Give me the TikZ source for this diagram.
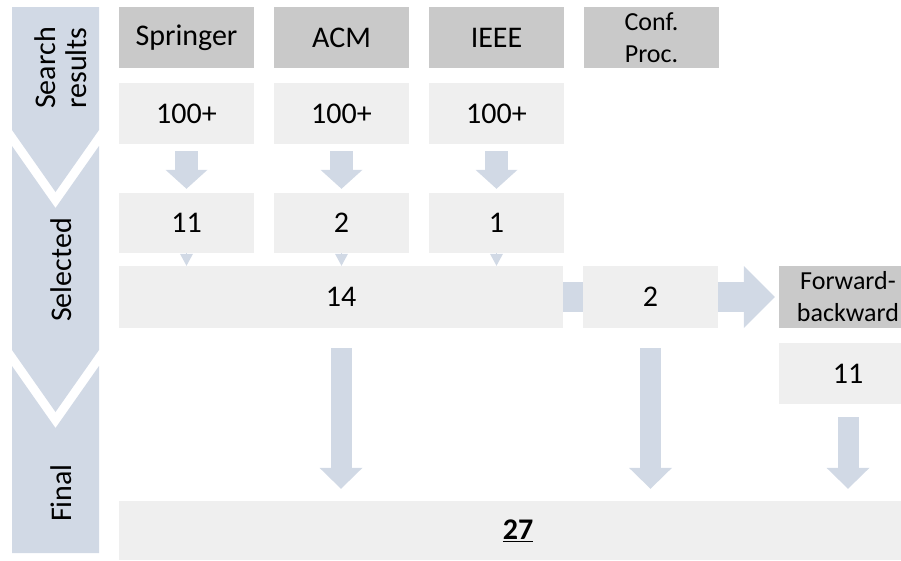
\documentclass[tikz,border=0pt]{standalone}
\usepackage{fontspec}
\setmainfont{Carlito}
\usetikzlibrary{arrows.meta}
\usetikzlibrary{backgrounds}
\definecolor{headgray}{RGB}{201,201,201}
\definecolor{cellgray}{RGB}{239,239,239}
\definecolor{flowblue}{RGB}{209,217,229}
\tikzset{head/.style = {fill=headgray, inner sep=0pt, minimum width=135pt,
                        minimum height=61pt, font=\fontsize{30}{34}\selectfont},
         smallhead/.style = {head, align=center, font=\fontsize{26}{32}\selectfont},
         cell/.style = {fill=cellgray, inner sep=0pt, minimum width=135pt,
                        minimum height=61pt, font=\fontsize{30}{34}\selectfont},
         band/.style = {rotate=90, align=center, font=\fontsize{30}{31}\selectfont},
         flow/.style = {draw=flowblue, line width=23pt,
                        -{Triangle[length=19pt, width=42pt, line width=0pt]}},
         longflow/.style = {draw=flowblue, line width=21pt,
                        -{Triangle[length=21pt, width=43pt, line width=0pt]}},
         sideflow/.style = {draw=flowblue, line width=30pt,
                        -{Triangle[length=31pt, width=62pt, line width=0pt]}},
         tinyflow/.style = {draw=flowblue, line width=0.5pt,
                        -{Triangle[length=12pt, width=13pt, line width=0pt]}}}

\begin{document}
\begin{tikzpicture}[x=1pt, y=-1pt]
    \useasboundingbox (0, 0) rectangle (901, 560);

    % stage band on the left
    \fill [flowblue] (12, 7) -- (99, 7) -- (99, 130) -- (55.5, 192) -- (12, 130) -- cycle;
    \fill [flowblue] (12, 146) -- (55.5, 208) -- (99, 146) -- (99, 350)
                     -- (55.5, 412) -- (12, 350) -- cycle;
    \fill [flowblue] (12, 366) -- (55.5, 428) -- (99, 366) -- (99, 553) -- (12, 553) -- cycle;
    \node (search) [band] at (61, 68) {Search\\results};
    \node (selected) [band] at (61, 270) {Selected};
    \node (final) [band] at (61, 493) {Final};

    % sources
    \node (springer) [head] at (186.5, 37.5) {Springer};
    \node (acm) [head] at (341.5, 37.5) {ACM};
    \node (ieee) [head] at (496.5, 37.5) {IEEE};
    \node (conf) [smallhead] at (651.5, 37.5) {Conf.\\Proc.};

    \node (sp-hits) [cell] at (186.5, 113.5) {100+};
    \node (acm-hits) [cell] at (341.5, 113.5) {100+};
    \node (ieee-hits) [cell] at (496.5, 113.5) {100+};

    \node (sp-sel) [cell, minimum height=60pt] at (186.5, 223) {11};
    \node (acm-sel) [cell, minimum height=60pt] at (341.5, 223) {2};
    \node (ieee-sel) [cell, minimum height=60pt] at (496.5, 223) {1};

    % selected and final
    \node (db-sel) [cell, minimum width=444pt, minimum height=62pt] at (341, 297) {14};
    \node (conf-sel) [cell, minimum height=62pt] at (650.5, 297) {2};
    \node (fb) [smallhead, minimum width=138pt, minimum height=62pt] at (848, 297) {Forward-\\backward};
    \node (fb-sel) [cell, minimum width=138pt] at (848, 373.5) {11};
    \node (total) [cell, minimum width=798pt, minimum height=59pt] at (518, 530.5)
        {\textbf{\underline{27}}};

    \draw [flow, shorten <=7pt, shorten >=4pt] (sp-hits) -- (sp-sel);
    \draw [flow, shorten <=7pt, shorten >=4pt] (acm-hits) -- (acm-sel);
    \draw [flow, shorten <=7pt, shorten >=4pt] (ieee-hits) -- (ieee-sel);

    \draw [tinyflow] (sp-sel.south) -- (sp-sel.south |- db-sel.north);
    \draw [tinyflow] (acm-sel.south) -- (acm-sel.south |- db-sel.north);
    \draw [tinyflow] (ieee-sel.south) -- (ieee-sel.south |- db-sel.north);

    \begin{scope}[on background layer]
        \draw [sideflow, shorten >=4pt] (db-sel.east) -- (fb.west);
    \end{scope}

    \draw [longflow, shorten <=20pt, shorten >=12pt] (db-sel.south) -- (db-sel.south |- total.north);
    \draw [longflow, shorten <=20pt, shorten >=12pt] (conf-sel.south) -- (conf-sel.south |- total.north);
    \draw [longflow, shorten <=13pt, shorten >=12pt] (fb-sel.south) -- (fb-sel.south |- total.north);
\end{tikzpicture}
\end{document}
